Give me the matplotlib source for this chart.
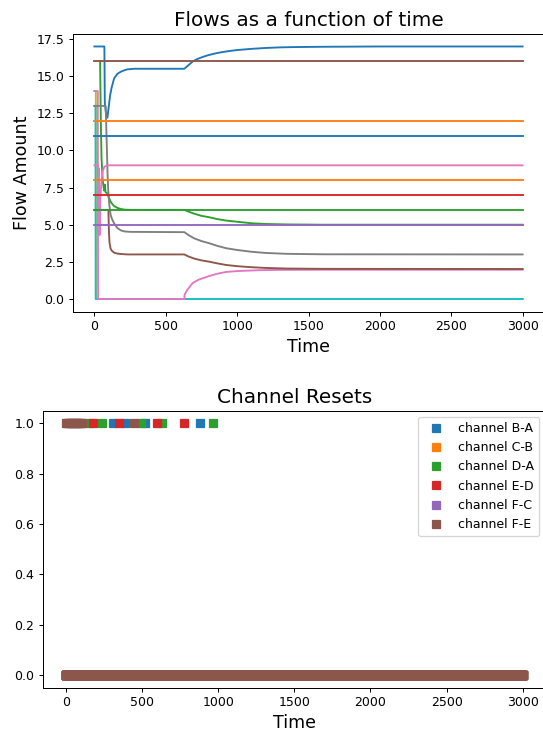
import numpy as np
import matplotlib
matplotlib.use('Agg')
import matplotlib.pyplot as plt

# ---- flows (top plot) ----
# constant flows, time 0..3000
t_flat = [0, 3000]
flow_brown16 = [16, 16]
flow_orange12 = [12, 12]
flow_blue11 = [11, 11]
flow_orange8 = [8, 8]
flow_red7 = [7, 7]
flow_green6 = [6, 6]
flow_purple5 = [5, 5]

# pink near 9 with early spikes
t_pink9 = [0, 25, 28, 31, 36, 40, 45, 50, 58, 70, 90, 3000]
v_pink9 = [9, 9, 4.5, 8.8, 4.3, 6.5, 7.3, 8.0, 8.6, 8.9, 9.0, 9.0]

# transient flows
t_olive = [0, 10, 11, 3000]
v_olive = [14, 14, 0, 0]

t_cyan = [0, 8, 9, 3000]
v_cyan = [13, 13, 0, 0]

t_pink = [0, 24, 26, 630, 632, 650, 687, 730, 806, 860, 923, 1000, 1156, 1300, 1600, 3000]
v_pink = [14, 14, 0, 0, 0.3, 0.6, 1.06, 1.3, 1.55, 1.7, 1.82, 1.88, 1.94, 1.96, 1.97, 1.97]

t_blue = [0, 70, 73, 80, 91, 100, 110, 120, 138, 160, 185, 210, 232, 280, 630,
          660, 690, 720, 760, 800, 850, 900, 950, 1000, 1100, 1200, 1300, 1400, 1600, 2000, 3000]
v_blue = [17, 17, 13.2, 12.6, 12.2, 12.9, 13.7, 14.2, 14.85, 15.15, 15.3, 15.4, 15.46, 15.5, 15.5,
          15.75, 16.0, 16.15, 16.3, 16.42, 16.54, 16.63, 16.7, 16.76, 16.84, 16.9, 16.94, 16.96, 16.98, 17.0, 17.0]

t_green = [40, 45, 50, 58, 68, 73, 78, 91, 100, 114, 125, 138, 160, 185, 210, 250, 630,
           660, 700, 750, 806, 860, 923, 1000, 1100, 1200, 1350, 1600, 3000]
v_green = [16, 12, 9.5, 8.0, 7.3, 7.7, 7.2, 7.1, 6.85, 6.55, 6.4, 6.26, 6.14, 6.06, 6.02, 6.0, 6.0,
           5.88, 5.74, 5.6, 5.5, 5.38, 5.28, 5.2, 5.1, 5.05, 5.02, 5.0, 5.0]

t_gray = [0, 79, 85, 92, 97, 105, 114, 125, 138, 150, 161, 185, 210, 250, 630,
          660, 700, 750, 806, 860, 923, 1000, 1100, 1200, 1350, 1600, 3000]
v_gray = [13, 13, 11, 8.5, 7.3, 6.3, 5.65, 5.35, 5.1, 4.92, 4.78, 4.62, 4.55, 4.52, 4.5,
          4.3, 4.08, 3.9, 3.75, 3.58, 3.42, 3.3, 3.18, 3.1, 3.04, 3.01, 3.0]

t_brown = [0, 98, 102, 106, 114, 125, 138, 160, 185, 232, 630,
           660, 700, 750, 806, 860, 923, 1000, 1100, 1200, 1350, 1600, 3000]
v_brown = [6, 6, 4.5, 3.8, 3.37, 3.22, 3.12, 3.06, 3.03, 3.0, 3.0,
           2.86, 2.72, 2.6, 2.51, 2.4, 2.29, 2.21, 2.14, 2.09, 2.05, 2.03, 2.02]

# ---- channel resets (bottom plot) ----
time = np.arange(0, 3001)
channels = ['channel B-A', 'channel C-B', 'channel D-A', 'channel E-D', 'channel F-C', 'channel F-E']
resets_BA = [311, 387, 523, 879]
resets_CB = []
resets_DA = [160, 240, 495, 633, 966]
resets_ED = [180, 346, 601, 775]
resets_FC = []
resets_FE = [0, 8, 16, 25, 33, 41, 50, 58, 66, 75, 83, 91, 100, 107, 445]

col = plt.rcParams['axes.prop_cycle'].by_key()['color']

fig = plt.figure(figsize=(543 / 90, 736 / 90), dpi=90)
ax1 = fig.add_axes([0.1344, 0.5766, 0.8675, 0.3774])
ax2 = fig.add_axes([0.0792, 0.0656, 0.9255, 0.3764])

ax1.plot(t_olive, v_olive, color=col[8])
ax1.plot(t_cyan, v_cyan, color=col[9])
ax1.plot(t_pink, v_pink, color=col[6])
ax1.plot(t_blue, v_blue, color=col[0])
ax1.plot(t_green, v_green, color=col[2])
ax1.plot(t_gray, v_gray, color=col[7])
ax1.plot(t_brown, v_brown, color=col[5])
ax1.plot(t_flat, flow_brown16, color=col[5])
ax1.plot(t_flat, flow_orange12, color=col[1])
ax1.plot(t_flat, flow_blue11, color=col[0])
ax1.plot(t_pink9, v_pink9, color=col[6])
ax1.plot(t_flat, flow_orange8, color=col[1])
ax1.plot(t_flat, flow_red7, color=col[3])
ax1.plot(t_flat, flow_green6, color=col[2])
ax1.plot(t_flat, flow_purple5, color=col[4])
ax1.set_title("Flows as a function of time", fontsize=16)
ax1.set_xlabel("Time", fontsize=14)
ax1.set_ylabel("Flow Amount", fontsize=14)
ax1.tick_params(labelsize=10)

all_resets = [resets_BA, resets_CB, resets_DA, resets_ED, resets_FC, resets_FE]
for name, r in zip(channels, all_resets):
    y = np.isin(time, r).astype(int)
    ax2.plot(time, y, 's', label=name)
ax2.set_title("Channel Resets", fontsize=16)
ax2.set_xlabel("Time", fontsize=14)
ax2.tick_params(labelsize=10)
ax2.legend(loc='upper right')

# right edge falls off the picture in the original
ax1.spines['right'].set_visible(False)
ax2.spines['right'].set_visible(False)

fig.savefig("out.png", dpi=90)
